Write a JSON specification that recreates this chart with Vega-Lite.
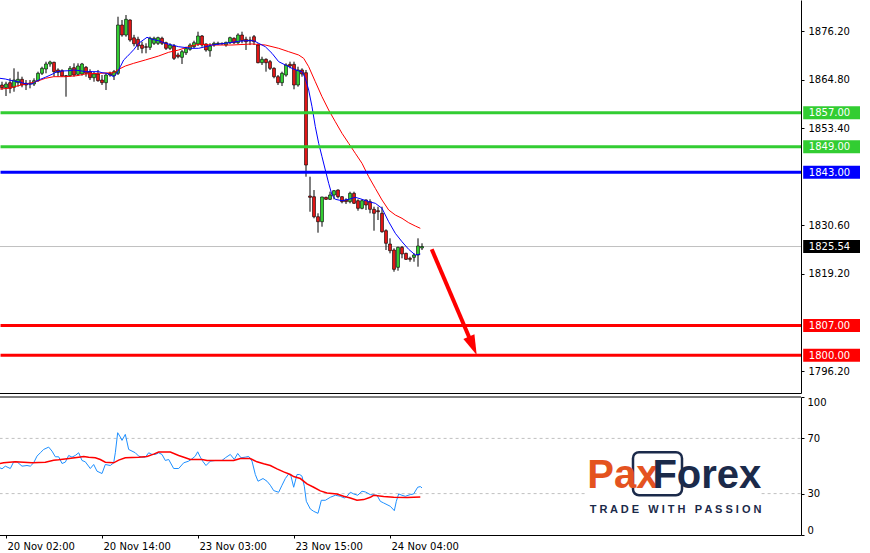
{
  "$schema": "https://vega.github.io/schema/vega-lite/v6.json",
  "padding": {"left": -3, "top": 0, "right": 0, "bottom": 0},
  "background": "white",
  "spacing": 3,
  "config": {
    "view": {"stroke": null},
    "font": "DejaVu Sans",
    "scale": {"continuousPadding": 0},
    "axis": {"labelFont": "DejaVu Sans", "labelFontSize": 10, "labelColor": "black", "domainColor": "black", "tickColor": "black", "grid": false, "title": null}
  },
  "datasets": {
    "candles": [
      {"i":0,"o":1863.51,"h":1864.28,"l":1862.33,"c":1862.87},
      {"i":1,"o":1862.87,"h":1864.28,"l":1860.92,"c":1863.74},
      {"i":2,"o":1864.05,"h":1865.08,"l":1861.56,"c":1862.73},
      {"i":3,"o":1862.97,"h":1867.43,"l":1861.93,"c":1864.68},
      {"i":4,"o":1864.05,"h":1866.64,"l":1863.11,"c":1864.85},
      {"i":5,"o":1864.85,"h":1865.46,"l":1862.97,"c":1863.51},
      {"i":6,"o":1863.91,"h":1864.68,"l":1862.33,"c":1863.51},
      {"i":7,"o":1863.74,"h":1864.68,"l":1862.73,"c":1863.91},
      {"i":8,"o":1863.74,"h":1865.08,"l":1863.27,"c":1864.52},
      {"i":9,"o":1864.52,"h":1866.64,"l":1864.28,"c":1866.26},
      {"i":10,"o":1866.26,"h":1867.81,"l":1865.86,"c":1867.43},
      {"i":11,"o":1867.27,"h":1868.99,"l":1866.26,"c":1868.45},
      {"i":12,"o":1868.45,"h":1869.22,"l":1867.81,"c":1868.92},
      {"i":13,"o":1868.84,"h":1868.99,"l":1865.46,"c":1866.64},
      {"i":14,"o":1867.04,"h":1867.43,"l":1865.46,"c":1866.49},
      {"i":15,"o":1866.87,"h":1867.2,"l":1865.46,"c":1865.63},
      {"i":16,"o":1865.7,"h":1865.86,"l":1860.76,"c":1865.55},
      {"i":17,"o":1865.7,"h":1867.97,"l":1865.46,"c":1867.43},
      {"i":18,"o":1867.58,"h":1868.61,"l":1865.46,"c":1865.86},
      {"i":19,"o":1866.02,"h":1868.61,"l":1865.63,"c":1867.97},
      {"i":20,"o":1866.1,"h":1868.7,"l":1865.7,"c":1868.45},
      {"i":21,"o":1867.67,"h":1867.97,"l":1865.46,"c":1866.26},
      {"i":22,"o":1866.64,"h":1867.2,"l":1864.68,"c":1865.22},
      {"i":23,"o":1865.22,"h":1866.64,"l":1864.28,"c":1866.1},
      {"i":24,"o":1866.1,"h":1867.04,"l":1864.28,"c":1864.52},
      {"i":25,"o":1864.68,"h":1865.86,"l":1863.51,"c":1864.05},
      {"i":26,"o":1864.05,"h":1866.26,"l":1862.33,"c":1865.86},
      {"i":27,"o":1866.26,"h":1866.64,"l":1865.46,"c":1865.86},
      {"i":28,"o":1865.7,"h":1867.04,"l":1864.68,"c":1866.64},
      {"i":29,"o":1866.26,"h":1879.56,"l":1865.86,"c":1877.61},
      {"i":30,"o":1877.61,"h":1878.79,"l":1874.86,"c":1875.26},
      {"i":31,"o":1875.26,"h":1879.96,"l":1874.86,"c":1878.95},
      {"i":32,"o":1878.79,"h":1878.95,"l":1873.69,"c":1874.09},
      {"i":33,"o":1874.6,"h":1875.3,"l":1872.6,"c":1873.2},
      {"i":34,"o":1874.25,"h":1874.86,"l":1871.74,"c":1872.68},
      {"i":35,"o":1872.91,"h":1873.69,"l":1870.96,"c":1872.13},
      {"i":36,"o":1872.51,"h":1873.31,"l":1870.96,"c":1872.37},
      {"i":37,"o":1872.37,"h":1874.86,"l":1871.74,"c":1874.49},
      {"i":38,"o":1873.31,"h":1874.86,"l":1872.91,"c":1874.49},
      {"i":39,"o":1873.31,"h":1874.86,"l":1872.91,"c":1874.63},
      {"i":40,"o":1874.49,"h":1874.86,"l":1872.91,"c":1873.31},
      {"i":41,"o":1873.45,"h":1873.69,"l":1871.74,"c":1872.13},
      {"i":42,"o":1872.13,"h":1873.31,"l":1871.74,"c":1872.91},
      {"i":43,"o":1872.68,"h":1873.15,"l":1869.39,"c":1869.78},
      {"i":44,"o":1870.56,"h":1871.1,"l":1869.78,"c":1870.16},
      {"i":45,"o":1870.02,"h":1871.74,"l":1868.45,"c":1871.34},
      {"i":46,"o":1871.1,"h":1872.51,"l":1870.56,"c":1872.13},
      {"i":47,"o":1871.9,"h":1873.31,"l":1871.57,"c":1872.91},
      {"i":48,"o":1872.51,"h":1873.92,"l":1872.13,"c":1873.45},
      {"i":49,"o":1873.15,"h":1876.04,"l":1872.68,"c":1875.03},
      {"i":50,"o":1875.03,"h":1875.26,"l":1872.51,"c":1872.91},
      {"i":51,"o":1873.15,"h":1873.31,"l":1871.34,"c":1871.74},
      {"i":52,"o":1871.57,"h":1873.31,"l":1870.16,"c":1872.68},
      {"i":53,"o":1872.91,"h":1873.69,"l":1872.51,"c":1873.31},
      {"i":54,"o":1873.15,"h":1873.69,"l":1872.91,"c":1873.31},
      {"i":55,"o":1873.31,"h":1873.5,"l":1872.95,"c":1873.2},
      {"i":56,"o":1872.91,"h":1873.69,"l":1872.51,"c":1873.54},
      {"i":57,"o":1873.45,"h":1874.86,"l":1873.15,"c":1874.63},
      {"i":58,"o":1874.49,"h":1874.72,"l":1873.15,"c":1873.45},
      {"i":59,"o":1873.45,"h":1875.66,"l":1873.15,"c":1875.26},
      {"i":60,"o":1875.26,"h":1876.04,"l":1873.31,"c":1873.92},
      {"i":61,"o":1874.25,"h":1874.86,"l":1871.74,"c":1873.69},
      {"i":62,"o":1874.09,"h":1874.86,"l":1872.9,"c":1873.9},
      {"i":63,"o":1874.86,"h":1875.26,"l":1872.91,"c":1873.69},
      {"i":64,"o":1872.91,"h":1873.31,"l":1868.61,"c":1868.75},
      {"i":65,"o":1868.75,"h":1870.16,"l":1868.21,"c":1869.55},
      {"i":66,"o":1869.55,"h":1869.78,"l":1866.64,"c":1868.75},
      {"i":67,"o":1868.99,"h":1869.39,"l":1867.04,"c":1867.43},
      {"i":68,"o":1867.43,"h":1867.67,"l":1865.08,"c":1865.46},
      {"i":69,"o":1865.46,"h":1865.86,"l":1863.51,"c":1864.05},
      {"i":70,"o":1864.05,"h":1866.64,"l":1863.27,"c":1866.26},
      {"i":71,"o":1865.86,"h":1868.61,"l":1865.46,"c":1868.21},
      {"i":72,"o":1868.37,"h":1868.99,"l":1867.43,"c":1867.97},
      {"i":73,"o":1868.37,"h":1868.99,"l":1862.5,"c":1863.51},
      {"i":74,"o":1863.51,"h":1867.81,"l":1863.11,"c":1867.04},
      {"i":75,"o":1867.04,"h":1867.43,"l":1865.46,"c":1866.1},
      {"i":76,"o":1866.4,"h":1867.04,"l":1841.95,"c":1844.7},
      {"i":77,"o":1837.41,"h":1841.95,"l":1833.72,"c":1837.11},
      {"i":78,"o":1837.25,"h":1838.82,"l":1832.17,"c":1832.55},
      {"i":79,"o":1832.55,"h":1833.35,"l":1828.79,"c":1831.37},
      {"i":80,"o":1831.37,"h":1837.25,"l":1830.2,"c":1837.18},
      {"i":81,"o":1837.11,"h":1837.25,"l":1836.48,"c":1836.64},
      {"i":82,"o":1836.64,"h":1838.43,"l":1836.48,"c":1837.65},
      {"i":83,"o":1837.65,"h":1838.82,"l":1836.64,"c":1838.66},
      {"i":84,"o":1838.82,"h":1838.99,"l":1836.87,"c":1837.25},
      {"i":85,"o":1837.25,"h":1837.41,"l":1835.7,"c":1836.08},
      {"i":86,"o":1836.48,"h":1836.87,"l":1835.53,"c":1836.08},
      {"i":87,"o":1836.08,"h":1838.43,"l":1835.7,"c":1838.05},
      {"i":88,"o":1838.05,"h":1838.43,"l":1835.53,"c":1835.7},
      {"i":89,"o":1836.31,"h":1836.64,"l":1833.96,"c":1834.52},
      {"i":90,"o":1834.52,"h":1836.64,"l":1834.29,"c":1836.31},
      {"i":91,"o":1836.48,"h":1836.64,"l":1834.13,"c":1835.3},
      {"i":92,"o":1836.08,"h":1836.64,"l":1833.35,"c":1834.29},
      {"i":93,"o":1834.29,"h":1834.9,"l":1829.26,"c":1833.35},
      {"i":94,"o":1833.96,"h":1834.9,"l":1831.77,"c":1833.72},
      {"i":95,"o":1833.35,"h":1834.9,"l":1828.79,"c":1829.02},
      {"i":96,"o":1829.26,"h":1829.59,"l":1824.72,"c":1826.3},
      {"i":97,"o":1826.13,"h":1827.47,"l":1823.94,"c":1824.56},
      {"i":98,"o":1824.72,"h":1825.12,"l":1819.62,"c":1820.18},
      {"i":99,"o":1820.65,"h":1825.5,"l":1819.86,"c":1825.35},
      {"i":100,"o":1825.35,"h":1825.66,"l":1822.77,"c":1823.78},
      {"i":101,"o":1823.94,"h":1824.09,"l":1822.37,"c":1822.53},
      {"i":102,"o":1822.77,"h":1823.15,"l":1821.97,"c":1822.53},
      {"i":103,"o":1823.0,"h":1823.94,"l":1821.97,"c":1823.55},
      {"i":104,"o":1823.55,"h":1827.47,"l":1820.8,"c":1825.66},
      {"i":105,"o":1825.2,"h":1826.3,"l":1824.72,"c":1825.54}
    ],
    "blueMA": [
      {"i":-0.5,"p":1865.08},{"i":0.83,"p":1864.92},{"i":2.5,"p":1864.52},{"i":4.17,"p":1864.28},{"i":5.42,"p":1863.91},{"i":6.67,"p":1863.74},{"i":7.5,"p":1863.74},{"i":8.33,"p":1864.28},{"i":9.58,"p":1864.85},{"i":10.83,"p":1865.32},{"i":12.5,"p":1866.02},{"i":13.75,"p":1866.64},{"i":15,"p":1866.8},{"i":16.67,"p":1866.87},{"i":17.92,"p":1867.04},{"i":19.58,"p":1866.87},{"i":20.83,"p":1866.64},{"i":24.17,"p":1866.64},{"i":25,"p":1866.4},{"i":26.25,"p":1866.26},{"i":27.92,"p":1865.46},{"i":28.75,"p":1866.26},{"i":29.58,"p":1867.81},{"i":30.42,"p":1869.39},{"i":31.25,"p":1870.16},{"i":32.08,"p":1870.96},{"i":32.92,"p":1871.8},{"i":34.17,"p":1873.31},{"i":36.25,"p":1874.72},{"i":37.5,"p":1874.25},{"i":39.17,"p":1873.92},{"i":40.83,"p":1873.31},{"i":42.5,"p":1872.91},{"i":44.17,"p":1872.51},{"i":47.5,"p":1872.13},{"i":49.17,"p":1872.13},{"i":50.83,"p":1872.51},{"i":52.5,"p":1872.91},{"i":55.83,"p":1873.31},{"i":59.17,"p":1873.78},{"i":60.83,"p":1873.92},{"i":62.92,"p":1873.92},{"i":64.17,"p":1873.31},{"i":65.83,"p":1872.51},{"i":67.5,"p":1870.96},{"i":69.17,"p":1868.99},{"i":70.83,"p":1868.21},{"i":72.5,"p":1867.43},{"i":74.17,"p":1866.8},{"i":75,"p":1866.64},{"i":75.83,"p":1865.08},{"i":76.67,"p":1862.33},{"i":77.5,"p":1858.41},{"i":78.33,"p":1853.71},{"i":79.17,"p":1849.8},{"i":80,"p":1846.65},{"i":80.83,"p":1843.53},{"i":81.67,"p":1840.4},{"i":82.5,"p":1837.65},{"i":83.33,"p":1836.64},{"i":85,"p":1836.31},{"i":86.67,"p":1836.64},{"i":88.33,"p":1837.11},{"i":90,"p":1836.64},{"i":91.67,"p":1836.08},{"i":93.33,"p":1835.7},{"i":95,"p":1834.52},{"i":96.67,"p":1831.37},{"i":98.33,"p":1828.65},{"i":100,"p":1826.67},{"i":101.67,"p":1824.88},{"i":103.33,"p":1823.55},{"i":104.58,"p":1823.78}
    ],
    "redMA": [
      {"i":-0.5,"p":1862.57},{"i":1.67,"p":1862.73},{"i":3.75,"p":1863.27},{"i":5.83,"p":1863.74},{"i":7.5,"p":1864.05},{"i":9.17,"p":1864.52},{"i":10.83,"p":1865.08},{"i":12.92,"p":1865.46},{"i":15.83,"p":1865.46},{"i":18.75,"p":1865.7},{"i":20.83,"p":1866.1},{"i":24.17,"p":1866.26},{"i":27.92,"p":1866.4},{"i":29.17,"p":1867.2},{"i":30.83,"p":1867.97},{"i":32.92,"p":1868.61},{"i":35.83,"p":1869.39},{"i":39.17,"p":1870.33},{"i":41.67,"p":1871.2},{"i":44.17,"p":1871.74},{"i":46.67,"p":1872.51},{"i":49.17,"p":1873.08},{"i":52.5,"p":1872.91},{"i":57.5,"p":1872.91},{"i":62.5,"p":1873.15},{"i":65.83,"p":1872.91},{"i":69.17,"p":1872.13},{"i":71.67,"p":1871.34},{"i":74.17,"p":1870.56},{"i":75.42,"p":1869.78},{"i":76.67,"p":1867.81},{"i":78.33,"p":1864.28},{"i":80,"p":1860.76},{"i":81.67,"p":1857.63},{"i":83.33,"p":1854.88},{"i":85,"p":1852.15},{"i":86.67,"p":1849.8},{"i":88.33,"p":1847.45},{"i":90,"p":1845.1},{"i":91.67,"p":1841.95},{"i":93.33,"p":1839.22},{"i":95,"p":1836.48},{"i":96.67,"p":1834.13},{"i":98.33,"p":1832.95},{"i":100,"p":1832.17},{"i":101.67,"p":1831.14},{"i":103.33,"p":1830.36},{"i":104.58,"p":1829.82}
    ],
    "rsi": [
      {"i":-0.5,"v":48.67},{"i":0,"v":47.94},{"i":0.83,"v":49.88},{"i":2.08,"v":48.18},{"i":2.92,"v":53.03},{"i":3.75,"v":53.03},{"i":5,"v":49.88},{"i":6.25,"v":50.36},{"i":7.08,"v":49.88},{"i":7.92,"v":52.3},{"i":8.75,"v":57.15},{"i":9.58,"v":59.58},{"i":10.42,"v":62},{"i":11.67,"v":63.7},{"i":12.5,"v":60.79},{"i":13.33,"v":56.67},{"i":14.17,"v":56.67},{"i":15,"v":51.82},{"i":15.83,"v":52.79},{"i":16.67,"v":57.64},{"i":17.5,"v":56.42},{"i":18.33,"v":57.64},{"i":19.17,"v":59.58},{"i":20,"v":54},{"i":20.83,"v":53.03},{"i":22.08,"v":48.18},{"i":22.92,"v":51.09},{"i":23.75,"v":46.24},{"i":25,"v":44.55},{"i":25.83,"v":51.09},{"i":27.08,"v":50.36},{"i":27.92,"v":52.3},{"i":28.33,"v":59.58},{"i":28.92,"v":74.12},{"i":29.58,"v":70.97},{"i":30,"v":68.55},{"i":30.83,"v":72.91},{"i":31.67,"v":62},{"i":32.5,"v":60.79},{"i":33.33,"v":59.58},{"i":34.17,"v":57.15},{"i":35,"v":56.42},{"i":35.83,"v":56.42},{"i":36.67,"v":59.58},{"i":37.5,"v":58.36},{"i":38.33,"v":58.36},{"i":39.17,"v":59.58},{"i":40,"v":58.36},{"i":40.83,"v":54},{"i":41.67,"v":54.73},{"i":42.92,"v":48.18},{"i":44.17,"v":48.18},{"i":45.42,"v":52.3},{"i":46.67,"v":53.52},{"i":47.5,"v":55.21},{"i":48.33,"v":57.15},{"i":48.92,"v":60.3},{"i":49.58,"v":56.42},{"i":50.17,"v":53.52},{"i":51,"v":50.36},{"i":52.08,"v":53.52},{"i":53.33,"v":54},{"i":55,"v":54},{"i":55.83,"v":55.94},{"i":57.08,"v":58.36},{"i":58.08,"v":54.73},{"i":58.92,"v":59.09},{"i":59.75,"v":55.94},{"i":60.83,"v":56.42},{"i":61.67,"v":56.91},{"i":62.5,"v":53.52},{"i":63.33,"v":43.82},{"i":64,"v":38.97},{"i":65.25,"v":40.91},{"i":66.25,"v":38.97},{"i":67.08,"v":36.06},{"i":67.92,"v":32.18},{"i":69.17,"v":30.97},{"i":70,"v":36.06},{"i":70.83,"v":40.91},{"i":71.67,"v":44.3},{"i":72.25,"v":42.61},{"i":72.92,"v":34.61},{"i":73.75,"v":43.82},{"i":74.42,"v":43.82},{"i":75,"v":42.61},{"i":75.58,"v":35.33},{"i":76.08,"v":24.42},{"i":77.08,"v":18.85},{"i":77.92,"v":17.15},{"i":79,"v":15.7},{"i":79.83,"v":25.15},{"i":80.83,"v":25.15},{"i":82.08,"v":27.33},{"i":83.33,"v":28.79},{"i":84.58,"v":28.06},{"i":85.58,"v":26.85},{"i":86.25,"v":28.06},{"i":87.08,"v":30.97},{"i":87.92,"v":29.76},{"i":88.92,"v":28.79},{"i":90,"v":31.7},{"i":90.83,"v":31.21},{"i":92.08,"v":29.27},{"i":93.75,"v":28.79},{"i":94.58,"v":24.42},{"i":95.42,"v":23.21},{"i":97.08,"v":20.79},{"i":98.08,"v":17.64},{"i":98.58,"v":24.42},{"i":99.17,"v":29.76},{"i":100,"v":28.79},{"i":100.83,"v":28.06},{"i":102.08,"v":29.27},{"i":102.92,"v":29.76},{"i":103.92,"v":34.61},{"i":104.58,"v":35.09},{"i":105,"v":34.12}
    ],
    "rsiMA": [
      {"i":-0.5,"v":51.82},{"i":0.42,"v":52.3},{"i":3.33,"v":53.03},{"i":5.42,"v":52.79},{"i":7.5,"v":52.3},{"i":10.83,"v":52.79},{"i":12.92,"v":54.24},{"i":14.17,"v":54.48},{"i":16.25,"v":55.21},{"i":19.17,"v":56.42},{"i":20.42,"v":56.91},{"i":21.67,"v":56.42},{"i":23.33,"v":55.94},{"i":24.58,"v":54.73},{"i":25.83,"v":52.79},{"i":27.92,"v":52.3},{"i":29.17,"v":54.24},{"i":30.83,"v":55.94},{"i":34.17,"v":56.42},{"i":36.25,"v":56.91},{"i":37.92,"v":58.61},{"i":39.17,"v":60.06},{"i":42.08,"v":60.06},{"i":44.17,"v":57.64},{"i":45.83,"v":55.94},{"i":47.08,"v":54.73},{"i":50,"v":54.73},{"i":51.25,"v":54},{"i":55.83,"v":54},{"i":57.92,"v":54},{"i":59.58,"v":55.45},{"i":62.08,"v":55.45},{"i":63.75,"v":53.03},{"i":65.42,"v":51.58},{"i":67.08,"v":50.36},{"i":68.75,"v":47.94},{"i":70.42,"v":45.76},{"i":72.08,"v":43.82},{"i":72.92,"v":42.36},{"i":74.58,"v":40.91},{"i":76.25,"v":37.03},{"i":77.92,"v":34.61},{"i":79.58,"v":31.94},{"i":81.25,"v":30.48},{"i":83.75,"v":29.76},{"i":85.42,"v":28.06},{"i":87.08,"v":26.85},{"i":88.75,"v":25.15},{"i":90.42,"v":25.64},{"i":92.08,"v":27.33},{"i":92.92,"v":28.79},{"i":95.42,"v":27.82},{"i":97.92,"v":27.33},{"i":101.25,"v":27.09},{"i":104.58,"v":27.58}
    ],
    "levels": [
      {"p":1857.0,"kind":"resistance"},
      {"p":1849.0,"kind":"resistance"},
      {"p":1843.0,"kind":"pivot"},
      {"p":1825.54,"kind":"last"},
      {"p":1807.0,"kind":"support"},
      {"p":1800.0,"kind":"support"}
    ],
    "arrow": [{"i":107.43,"p":1824.89,"i2":117.7,"p2":1802.2}],
    "rsiLevels": [{"v":70},{"v":30}],
    "logo": [{"part":"Pax","i":146.3,"v":33.9},{"part":"Forex","i":162.6,"v":33.9}],
    "tagline": [{"text":"T R A D E\u00a0\u00a0\u00a0W I T H\u00a0\u00a0\u00a0P A S S I O N","i":168.4,"v":17.9}]
  },
  "vconcat": [
    {
      "width": 802,
      "height": 393,
      "layer": [
        {
          "data": {"name": "levels"},
          "transform": [{"filter": "datum.kind == 'last'"}],
          "mark": {"type": "rule", "color": "#C0C0C0", "strokeWidth": 1},
          "encoding": {
            "x": {"datum": -0.6, "type": "quantitative", "scale": {"domain": [-0.75, 199.75], "nice": false, "zero": false, "padding": 0}, "axis": {"orient": "bottom", "labels": false, "ticks": false, "domain": true, "title": null}},
            "x2": {"datum": 199.75},
            "y": {"field": "p", "type": "quantitative", "scale": {"domain": [1791.11, 1883.49], "nice": false, "zero": false, "padding": 0}, "axis": {"orient": "right", "values": [1876.2, 1864.8, 1853.4, 1830.6, 1819.2, 1796.2], "format": ".2f", "tickSize": 3, "labelPadding": 4, "title": null}}
          }
        },
        {
          "data": {"name": "candles"},
          "mark": {"type": "rule", "color": "black", "strokeWidth": 1},
          "encoding": {
            "x": {"field": "i", "type": "quantitative", "scale": {"domain": [-0.75, 199.75], "nice": false, "zero": false, "padding": 0}, "axis": {"orient": "bottom", "labels": false, "ticks": false, "domain": true, "title": null}},
            "y": {"field": "l", "type": "quantitative", "scale": {"domain": [1791.11, 1883.49], "nice": false, "zero": false, "padding": 0}, "axis": {"orient": "right", "values": [1876.2, 1864.8, 1853.4, 1830.6, 1819.2, 1796.2], "format": ".2f", "tickSize": 3, "labelPadding": 4, "title": null}},
            "y2": {"field": "h"}
          }
        },
        {
          "data": {"name": "candles"},
          "mark": {"type": "bar", "size": 3, "stroke": "black", "strokeWidth": 0.6, "orient": "vertical"},
          "encoding": {
            "x": {"field": "i", "type": "quantitative"},
            "y": {"field": "o", "type": "quantitative"},
            "y2": {"field": "c"},
            "fill": {"condition": {"test": "datum.c >= datum.o", "value": "#32CD32"}, "value": "#E01515"}
          }
        },
        {
          "data": {"name": "redMA"},
          "mark": {"type": "line", "color": "#FF0000", "strokeWidth": 1},
          "encoding": {
            "x": {"field": "i", "type": "quantitative"},
            "y": {"field": "p", "type": "quantitative"}
          }
        },
        {
          "data": {"name": "blueMA"},
          "mark": {"type": "line", "color": "#0000FF", "strokeWidth": 1},
          "encoding": {
            "x": {"field": "i", "type": "quantitative"},
            "y": {"field": "p", "type": "quantitative"}
          }
        },
        {
          "data": {"name": "levels"},
          "transform": [{"filter": "datum.kind != 'last'"}],
          "mark": {"type": "rule", "strokeWidth": 3},
          "encoding": {
            "x": {"datum": -0.37, "type": "quantitative"},
            "x2": {"datum": 199.75},
            "y": {"field": "p", "type": "quantitative"},
            "color": {"field": "kind", "type": "nominal", "scale": {"domain": ["resistance", "pivot", "support", "last"], "range": ["#32CD32", "#0000FF", "#FF0000", "#000000"]}, "legend": null}
          }
        },
        {
          "data": {"name": "levels"},
          "mark": {"type": "bar", "size": 13, "orient": "horizontal"},
          "encoding": {
            "x": {"datum": 200.3, "type": "quantitative"},
            "x2": {"datum": 214.5},
            "y": {"field": "p", "type": "quantitative"},
            "color": {"field": "kind", "type": "nominal", "scale": {"domain": ["resistance", "pivot", "support", "last"], "range": ["#32CD32", "#0000FF", "#FF0000", "#000000"]}, "legend": null}
          }
        },
        {
          "data": {"name": "levels"},
          "mark": {"type": "text", "align": "left", "baseline": "middle", "color": "white", "fontSize": 10, "font": "DejaVu Sans", "dy": 0.5},
          "encoding": {
            "x": {"datum": 201.7, "type": "quantitative"},
            "y": {"field": "p", "type": "quantitative"},
            "text": {"field": "p", "type": "quantitative", "format": ".2f"}
          }
        },
        {
          "data": {"name": "arrow"},
          "mark": {"type": "rule", "color": "#FF0000", "strokeWidth": 4},
          "encoding": {
            "x": {"field": "i", "type": "quantitative"},
            "y": {"field": "p", "type": "quantitative"},
            "x2": {"field": "i2"},
            "y2": {"field": "p2"}
          }
        },
        {
          "data": {"name": "arrow"},
          "mark": {"type": "point", "shape": "M0,1L-0.6,-1L0.6,-1Z", "size": 400, "angle": -23, "filled": true, "color": "#FF0000", "opacity": 1, "strokeWidth": 0},
          "encoding": {
            "x": {"field": "i2", "type": "quantitative"},
            "y": {"field": "p2", "type": "quantitative"}
          }
        }
      ]
    },
    {
      "width": 802,
      "height": 138,
      "layer": [
        {
          "data": {"name": "rsiLevels"},
          "mark": {"type": "rule", "color": "#C0C0C0", "strokeDash": [3, 3], "strokeWidth": 1},
          "encoding": {
            "x": {"datum": -0.6, "type": "quantitative", "scale": {"domain": [-0.75, 199.75], "nice": false, "zero": false, "padding": 0}, "axis": {"orient": "bottom", "values": [1, 25, 49, 73, 97], "labelExpr": "datum.value == 1 ? '20 Nov 02:00' : datum.value == 25 ? '20 Nov 14:00' : datum.value == 49 ? '23 Nov 03:00' : datum.value == 73 ? '23 Nov 15:00' : '24 Nov 04:00'", "labelAlign": "left", "labelFlush": false, "labelOverlap": false, "tickSize": 3, "labelPadding": 3, "labelOffset": 1, "title": null}},
            "x2": {"datum": 199.75},
            "y": {"field": "v", "type": "quantitative", "scale": {"domain": [0, 100], "nice": false, "zero": false, "padding": 0}, "axis": {"orient": "right", "values": [0, 30, 70, 100], "format": "d", "labelFlush": true, "tickSize": 3, "labelPadding": 3, "title": null}}
          }
        },
        {
          "data": {"values": [{"v": 100}]},
          "mark": {"type": "rule", "color": "black", "strokeWidth": 1},
          "encoding": {
            "x": {"datum": -0.6, "type": "quantitative"},
            "x2": {"datum": 199.75},
            "y": {"field": "v", "type": "quantitative"}
          }
        },
        {
          "data": {"name": "rsi"},
          "mark": {"type": "line", "color": "#1E90FF", "strokeWidth": 1},
          "encoding": {
            "x": {"field": "i", "type": "quantitative"},
            "y": {"field": "v", "type": "quantitative"}
          }
        },
        {
          "data": {"name": "rsiMA"},
          "mark": {"type": "line", "color": "#FF0000", "strokeWidth": 1.5},
          "encoding": {
            "x": {"field": "i", "type": "quantitative"},
            "y": {"field": "v", "type": "quantitative"}
          }
        },
        {
          "data": {"values": [{"a": 145.75, "b": 189.75, "lo": 12.8, "hi": 62.2}]},
          "mark": {"type": "rect", "color": "white"},
          "encoding": {
            "x": {"field": "a", "type": "quantitative"},
            "x2": {"field": "b"},
            "y": {"field": "lo", "type": "quantitative"},
            "y2": {"field": "hi"}
          }
        },
        {
          "data": {"values": [{"a": 157.75, "b": 170.0, "lo": 28.8, "hi": 60.0}]},
          "mark": {"type": "rect", "fill": null, "fillOpacity": 0, "stroke": "#1B2A4A", "strokeWidth": 2.5, "cornerRadius": 6},
          "encoding": {
            "x": {"field": "a", "type": "quantitative"},
            "x2": {"field": "b"},
            "y": {"field": "lo", "type": "quantitative"},
            "y2": {"field": "hi"}
          }
        },
        {
          "data": {"name": "logo"},
          "mark": {"type": "text", "align": "left", "baseline": "alphabetic", "font": "Liberation Sans", "fontWeight": "bold", "fontSize": 40},
          "encoding": {
            "x": {"field": "i", "type": "quantitative"},
            "y": {"field": "v", "type": "quantitative"},
            "text": {"field": "part"},
            "color": {"condition": {"test": "datum.part == 'Pax'", "value": "#E4531F"}, "value": "#1B2A4A"}
          }
        },
        {
          "data": {"name": "tagline"},
          "mark": {"type": "text", "align": "center", "baseline": "middle", "font": "Liberation Sans", "fontWeight": "bold", "fontSize": 11, "color": "#1B2A4A"},
          "encoding": {
            "x": {"field": "i", "type": "quantitative"},
            "y": {"field": "v", "type": "quantitative"},
            "text": {"field": "text"}
          }
        }
      ]
    }
  ]
}
